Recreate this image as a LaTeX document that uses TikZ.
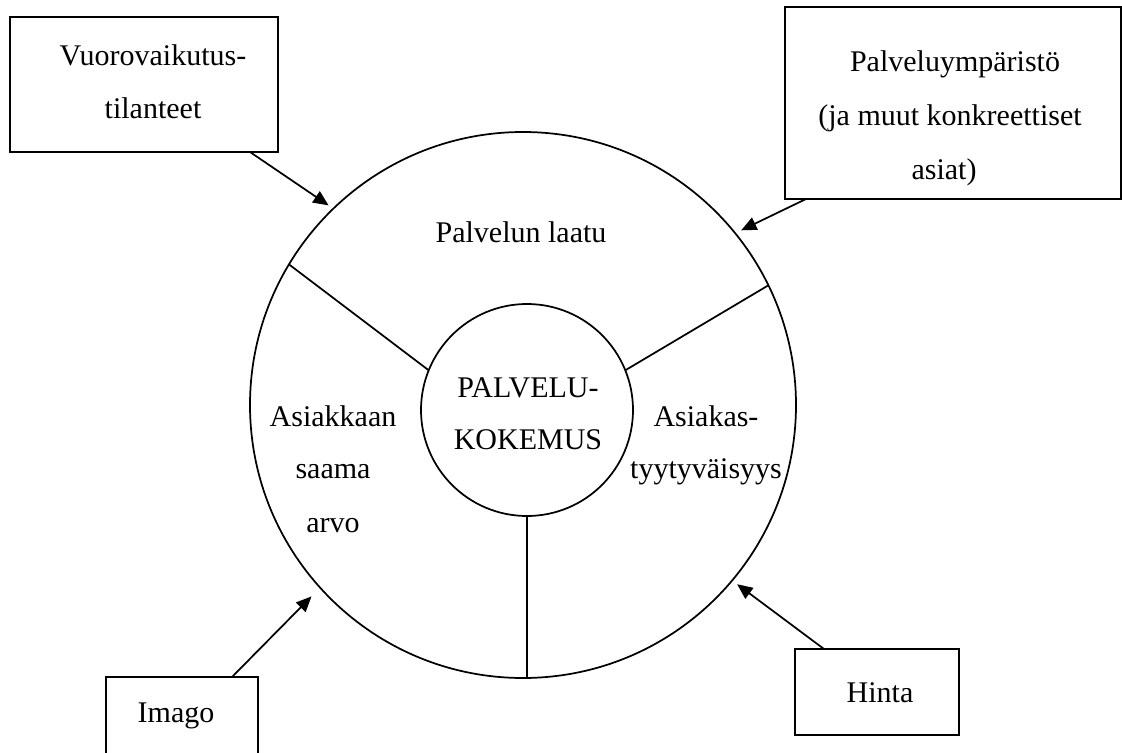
\documentclass[tikz,border=0pt]{standalone}
\usepackage{fontspec}
\setmainfont{Liberation Serif}
\usetikzlibrary{arrows.meta}
\tikzset{
  every node/.style={inner sep=0pt, outer sep=0pt},
  boxnode/.style={draw, line width=1.3pt, rectangle},
  ringnode/.style={draw, line width=1.3pt, circle},
  txt/.style={font=\fontsize{22.5pt}{27pt}\selectfont, anchor=base},
  arr/.style={line width=1.3pt, -{Triangle[length=11.5pt,width=10pt]}},
  seg/.style={line width=1.3pt}
}
\begin{document}
\begin{tikzpicture}[x=0.75pt,y=-0.75pt]
\useasboundingbox (0,0) rectangle (1122,753);
\fill[white] (0,0) rectangle (1122,753);
% circles
\node[ringnode, minimum size=409.5pt] (outer) at (523,405) {};
\node[ringnode, minimum size=159pt] (inner) at (527,410) {};
% dividers
\draw[seg] (outer.149.5) -- (inner.158);
\draw[seg] (outer.26) -- (inner.22);
\draw[seg] (inner.south) -- (inner.south |- outer.south);
% boxes
\node[boxnode, minimum width=201pt, minimum height=101.25pt] (tl) at (144,84.5) {};
\node[boxnode, minimum width=252pt, minimum height=144pt] (tr) at (953,103) {};
\begin{scope}
\clip (0,0) rectangle (1122,753);
\node[boxnode, minimum width=114pt, minimum height=92.25pt] (imago) at (182,738.5) {};
\end{scope}
\node[boxnode, minimum width=123pt, minimum height=64.5pt] (hinta) at (877,692) {};
% texts
\node[txt] (t1a) at (153,65) {Vuorovaikutus-};
\node[txt] (t1b) at (153,118) {tilanteet};
\node[txt] (t2a) at (955,71) {Palveluympäristö};
\node[txt] (t2b) at (950,125) {(ja muut konkreettiset};
\node[txt] (t2c) at (944,179) {asiat)};
\node[txt] (t3) at (521,242) {Palvelun laatu};
\node[txt] (t4a) at (528,397) {PALVELU-};
\node[txt] (t4b) at (528,449) {KOKEMUS};
\node[txt] (t5a) at (333,426) {Asiakkaan};
\node[txt] (t5b) at (333,478) {saama};
\node[txt] (t5c) at (333,532) {arvo};
\node[txt] (t6a) at (706,426) {Asiakas-};
\node[txt] (t6b) at (706,478) {tyytyväisyys};
\node[txt] (t7) at (176,722) {Imago};
\node[txt] (t8) at (880,702) {Hinta};
% arrows
\draw[arr, shorten >=4.3pt] ([xshift=-21pt]tl.south east) -- (outer.134.5);
\draw[arr, shorten >=5pt] ([xshift=15.75pt]tr.south west) -- (outer.39.4);
\draw[arr, shorten >=9.2pt] ([xshift=-19.5pt]imago.north east) -- (outer.222.2);
\draw[arr, shorten >=4.7pt] ([xshift=21.75pt]hinta.north west) -- (outer.320.6);
\end{tikzpicture}
\end{document}
